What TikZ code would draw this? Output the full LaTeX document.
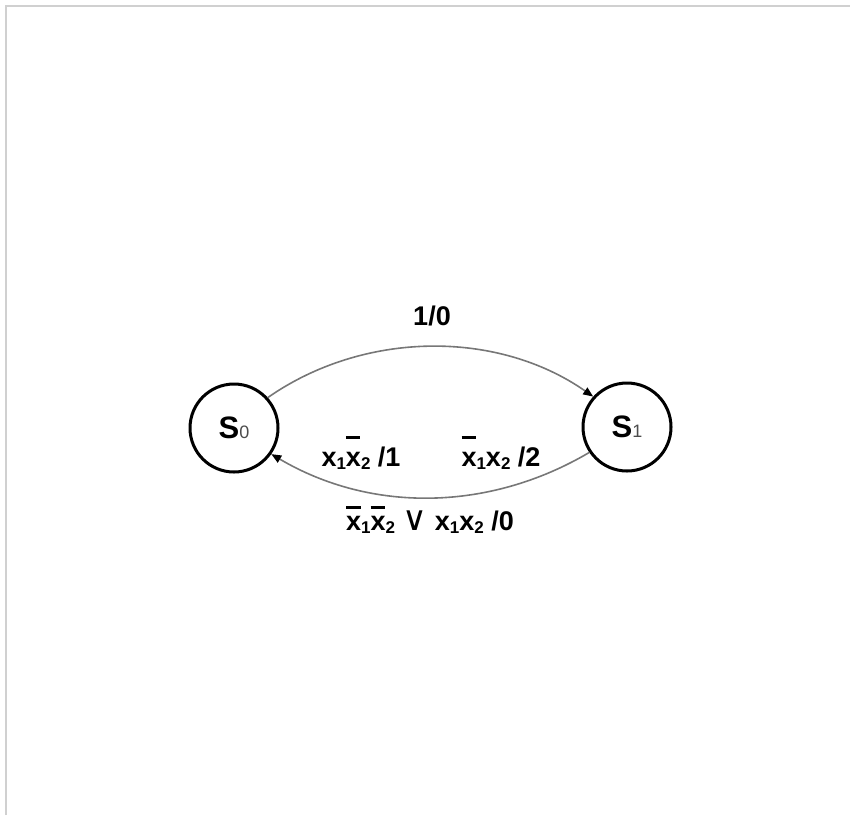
\documentclass[tikz,border=0pt]{standalone}
\usepackage{fontspec}
\setmainfont{Liberation Sans}
\newfontfamily\symfont{DejaVu Sans}
\usetikzlibrary{arrows.meta}
\newcommand\sbx[1]{\raisebox{-3pt}{\fontsize{17}{17}\selectfont #1}}
\newcommand\barx[1]{\makebox[0pt][l]{\raisebox{#1}{\rule{14.5pt}{2.4pt}}}x}
\definecolor{framegray}{HTML}{D0D0D0}
\definecolor{arcgray}{HTML}{777777}
\begin{document}
\begin{tikzpicture}[x=1pt,y=-1pt,
  state/.style={circle,draw=black,line width=3pt,minimum size=88pt,inner sep=0pt},
  trans/.style={draw=arcgray,line width=1.6pt,-{Triangle[length=10pt,width=8pt,color=black]}},
  lab/.style={font=\fontsize{27}{27}\bfseries\selectfont,inner sep=0pt,anchor=base}]
\useasboundingbox (0,0) rectangle (850,815);
\draw[line width=2pt, framegray] (6,815) -- (6,6) -- (850,6);
\node[state] (S0) at (234,428) {{\fontsize{31}{31}\bfseries\selectfont S}{\fontsize{18}{18}\selectfont\color{black!70}0}};
\node[state] (S1) at (627,427) {{\fontsize{31}{31}\bfseries\selectfont S}{\fontsize{18}{18}\selectfont\color{black!70}1}};
\draw[trans] (S0.42) .. controls +(96,-67) and +(-96,-67) .. (S1.138);
\draw[trans] (S1.214) .. controls +(-100,59) and +(100,59) .. (S0.-35);
\node[lab] (l10) at (432,325) {1/0};
\node[lab] (l1) at (361,466) {x\sbx{1}\barx{27.5pt}\sbx{2} /1};
\node[lab] (l2) at (501,466) {\barx{27.5pt}\sbx{1}x\sbx{2} /2};
\node[lab] (l0) at (430,530) {\barx{21.5pt}\sbx{1}\barx{21.5pt}\sbx{2} {\symfont\mdseries\fontsize{34}{34}\selectfont ∨} x\sbx{1}x\sbx{2} /0};
\end{tikzpicture}
\end{document}
